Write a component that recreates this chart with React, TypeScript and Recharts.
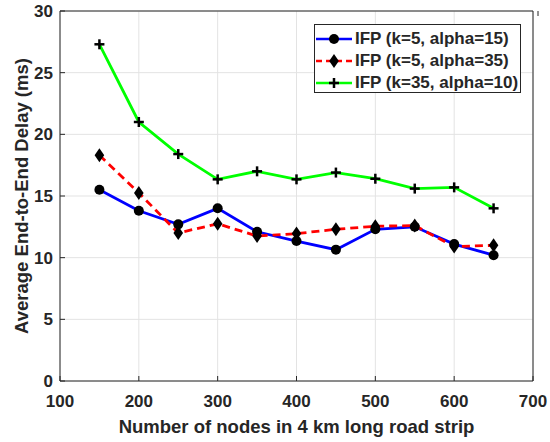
import { LineChart, Line, XAxis, YAxis, CartesianGrid, Label } from "recharts";

const nodes = [150, 200, 250, 300, 350, 400, 450, 500, 550, 600, 650];
const delayK5A15 = [15.5, 13.8, 12.7, 14.0, 12.1, 11.35, 10.65, 12.3, 12.5, 11.1, 10.2];
const delayK5A35 = [18.3, 15.25, 12.0, 12.75, 11.75, 11.95, 12.3, 12.55, 12.6, 10.9, 11.0];
const delayK35A10 = [27.3, 21.0, 18.4, 16.35, 17.0, 16.35, 16.9, 16.4, 15.6, 15.7, 14.0];

const xTicks = [100, 200, 300, 400, 500, 600, 700];
const yTicks = [0, 5, 10, 15, 20, 25, 30];

const data = nodes.map((n, i) => ({
  n,
  a: delayK5A15[i],
  b: delayK5A35[i],
  c: delayK35A10[i],
}));

const FONT = '"Liberation Sans", Arial, Helvetica, sans-serif';
const INK = "#262626";

type MarkerKind = "circle" | "diamond" | "plus";

function Marker({ kind, cx, cy }: { kind: MarkerKind; cx: number; cy: number }) {
  if (kind === "circle") return <circle cx={cx} cy={cy} r={5} fill="#000" />;
  if (kind === "diamond")
    return (
      <polygon
        points={`${cx},${cy - 7} ${cx + 4.8},${cy} ${cx},${cy + 7} ${cx - 4.8},${cy}`}
        fill="#000"
      />
    );
  return (
    <g stroke="#000" strokeWidth={2.5}>
      <line x1={cx - 5} x2={cx + 5} y1={cy} y2={cy} />
      <line x1={cx} x2={cx} y1={cy - 5} y2={cy + 5} />
    </g>
  );
}

const series = [
  { key: "a", name: "IFP (k=5, alpha=15)", color: "#0000ff", dash: undefined, marker: "circle" as MarkerKind },
  { key: "b", name: "IFP (k=5, alpha=35)", color: "#ff0000", dash: "8 5", marker: "diamond" as MarkerKind },
  { key: "c", name: "IFP (k=35, alpha=10)", color: "#00ff00", dash: undefined, marker: "plus" as MarkerKind },
];

const tickText = { fontFamily: FONT, fontWeight: 700, fontSize: 17, fill: INK };

const LeftTick = (p: any) => (
  <g>
    <line x1={p.x} x2={p.x + 5} y1={p.y} y2={p.y} stroke={INK} />
    <text x={p.x - 7} y={p.y + 6} textAnchor="end" {...tickText}>
      {p.payload.value}
    </text>
  </g>
);

const BottomTick = (p: any) => (
  <g>
    <line x1={p.x} x2={p.x} y1={p.y} y2={p.y - 5} stroke={INK} />
    <text x={p.x} y={p.y + 26} textAnchor="middle" {...tickText}>
      {p.payload.value}
    </text>
  </g>
);

const RightTick = (p: any) => (
  <line x1={p.x} x2={p.x - 5} y1={p.y} y2={p.y} stroke={INK} />
);

const TopTick = (p: any) => (
  <line x1={p.x} x2={p.x} y1={p.y} y2={p.y + 5} stroke={INK} />
);

function LegendBox() {
  return (
    <div
      style={{
        position: "absolute",
        left: 314,
        top: 24,
        width: 207,
        height: 69,
        border: `1px solid ${INK}`,
        background: "#fff",
        paddingTop: 3,
        boxSizing: "border-box",
      }}
    >
      {series.map((s) => (
        <div key={s.key} style={{ display: "flex", alignItems: "center", height: 22 }}>
          <svg width={40} height={22} style={{ flex: "none" }}>
            <line
              x1={1}
              x2={37}
              y1={11}
              y2={11}
              stroke={s.color}
              strokeWidth={2.5}
              strokeDasharray={s.dash ? "6 4" : undefined}
            />
            <Marker kind={s.marker} cx={19} cy={11} />
          </svg>
          <span
            style={{
              fontFamily: FONT,
              fontWeight: 700,
              fontSize: 17,
              color: INK,
              whiteSpace: "nowrap",
            }}
          >
            {s.name}
          </span>
        </div>
      ))}
    </div>
  );
}

export default function App() {
  return (
    <div style={{ position: "fixed", left: 0, top: 0, width: 550, height: 442, background: "#fff" }}>
      <LineChart
        width={550}
        height={442}
        data={data}
        margin={{ top: 10, right: 16, bottom: 60, left: 59 }}
      >
        <CartesianGrid stroke="#e3e3e3" />
        <XAxis
          dataKey="n"
          type="number"
          domain={[100, 700]}
          ticks={xTicks}
          height={1}
          tickSize={0}
          tickMargin={0}
          tickLine={false}
          tick={BottomTick}
          axisLine={{ stroke: INK }}
        >
          <Label
            content={({ viewBox }: any) => (
              <text
                x={viewBox.x + viewBox.width / 2}
                y={433}
                textAnchor="middle"
                fontFamily={FONT}
                fontWeight={700}
                fontSize={18.5}
                fill={INK}
              >
                Number of nodes in 4 km long road strip
              </text>
            )}
          />
        </XAxis>
        <XAxis
          xAxisId="top"
          orientation="top"
          type="number"
          domain={[100, 700]}
          ticks={xTicks}
          height={1}
          tickSize={0}
          tickMargin={0}
          tickLine={false}
          tick={TopTick}
          axisLine={{ stroke: INK }}
        />
        <YAxis
          type="number"
          domain={[0, 30]}
          ticks={yTicks}
          width={1}
          tickSize={0}
          tickMargin={0}
          tickLine={false}
          tick={LeftTick}
          axisLine={{ stroke: INK }}
        >
          <Label
            content={({ viewBox }: any) => {
              const cy = viewBox.y + viewBox.height / 2;
              return (
                <text
                  x={21}
                  y={cy}
                  transform={`rotate(-90 21 ${cy})`}
                  textAnchor="middle"
                  dominantBaseline="central"
                  fontFamily={FONT}
                  fontWeight={700}
                  fontSize={18.5}
                  fill={INK}
                >
                  Average End-to-End Delay (ms)
                </text>
              );
            }}
          />
        </YAxis>
        <YAxis
          yAxisId="right"
          orientation="right"
          type="number"
          domain={[0, 30]}
          ticks={yTicks}
          width={1}
          tickSize={0}
          tickMargin={0}
          tickLine={false}
          tick={RightTick}
          axisLine={{ stroke: INK }}
        />
        {series.map((s) => (
          <Line
            key={s.key}
            type="linear"
            dataKey={s.key}
            name={s.name}
            stroke={s.color}
            strokeWidth={2.8}
            strokeDasharray={s.dash}
            isAnimationActive={false}
            dot={(p: any) => (
              <Marker key={`${s.key}-${p.index}`} kind={s.marker} cx={p.cx} cy={p.cy} />
            )}
            activeDot={false}
          />
        ))}
      </LineChart>
      <LegendBox />
    </div>
  );
}
